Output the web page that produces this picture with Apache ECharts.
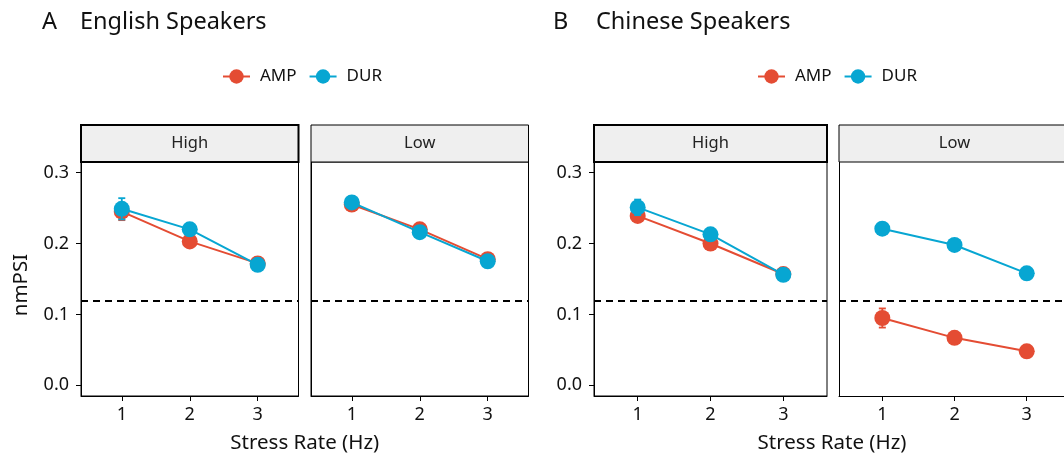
<!DOCTYPE html>
<html>
<head>
<meta charset="utf-8">
<script src="https://cdn.jsdelivr.net/npm/echarts@6/dist/echarts.min.js"></script>
<style>
  html, body { margin: 0; padding: 0; background: #fff; }
  #chart { width: 1064px; height: 460px; }
</style>
</head>
<body>
<div id="chart"></div>
<script>
// Stress rate levels (Hz) on the x axis
const stressRates = [1, 2, 3];
const yTicks = [0, 0.1, 0.2, 0.3];
const chanceLevel = 0.12;
const seriesNames = ['AMP', 'DUR'];
const panelTitles = ['English Speakers', 'Chinese Speakers'];
const panelLetters = ['A', 'B'];
const facetLabels = ['High', 'Low', 'High', 'Low'];

// Mean nmPSI per facet
const engHighAmp = [0.245, 0.203, 0.172];
const engHighDur = [0.249, 0.220, 0.170];
const engLowAmp  = [0.255, 0.220, 0.178];
const engLowDur  = [0.258, 0.216, 0.175];
const chnHighAmp = [0.239, 0.200, 0.157];
const chnHighDur = [0.251, 0.213, 0.156];
const chnLowAmp  = [0.095, 0.067, 0.048];
const chnLowDur  = [0.221, 0.198, 0.158];

// Standard errors
const engHighAmpSe = [0.012, 0.005, 0.004];
const engHighDurSe = [0.015, 0.007, 0.004];
const engLowAmpSe  = [0.006, 0.004, 0.004];
const engLowDurSe  = [0.005, 0.004, 0.004];
const chnHighAmpSe = [0.006, 0.005, 0.004];
const chnHighDurSe = [0.011, 0.006, 0.004];
const chnLowAmpSe  = [0.0135, 0.008, 0.005];
const chnLowDurSe  = [0.004, 0.004, 0.004];

const COLORS = { AMP: '#E44C33', DUR: '#07A6D2' };
const FONT = '"Noto Sans", "Open Sans", sans-serif';

// Facet panel geometry (px); the last facet runs past the right edge of the canvas,
// so its x range is trimmed to keep the same px-per-unit scale.
const panels = [
  { left: 81,  width: 217.5, xMax: 3.6,   border: true,  amp: engHighAmp, dur: engHighDur, ampSe: engHighAmpSe, durSe: engHighDurSe, yLabels: true },
  { left: 311, width: 217.5, xMax: 3.6,   border: true,  amp: engLowAmp,  dur: engLowDur,  ampSe: engLowAmpSe,  durSe: engLowDurSe,  yLabels: false },
  { left: 594, width: 233,   xMax: 3.6,   border: true,  amp: chnHighAmp, dur: chnHighDur, ampSe: chnHighAmpSe, durSe: chnHighDurSe, yLabels: true },
  { left: 839, width: 225,   xMax: 3.516, border: false, amp: chnLowAmp,  dur: chnLowDur,  ampSe: chnLowAmpSe,  durSe: chnLowDurSe,  yLabels: false }
];
const PLOT_TOP = 162, PLOT_H = 234, STRIP_TOP = 125;

const grids = [], xAxes = [], yAxes = [], series = [], graphics = [];

panels.forEach((p, i) => {
  grids.push({
    left: p.left, top: PLOT_TOP, width: p.width, height: PLOT_H,
    show: p.border, borderColor: '#000', borderWidth: 1, backgroundColor: 'transparent'
  });
  xAxes.push({
    gridIndex: i, type: 'value', min: 0.4, max: p.xMax,
    axisLine: { show: true, onZero: false, lineStyle: { color: '#000', width: 1 } },
    axisTick: { show: true, customValues: stressRates, length: 5, lineStyle: { color: '#000', width: 1 } },
    axisLabel: { customValues: stressRates, margin: 10, fontSize: 18, color: '#111', fontFamily: FONT },
    splitLine: { show: false }
  });
  yAxes.push({
    gridIndex: i, type: 'value', min: -0.015, max: 0.315,
    axisLine: { show: true, onZero: false, lineStyle: { color: '#000', width: 1 } },
    axisTick: { show: p.yLabels, customValues: yTicks, length: 5, lineStyle: { color: '#000', width: 1 } },
    axisLabel: { show: p.yLabels, customValues: yTicks, margin: 12, fontSize: 18, color: '#111', fontFamily: FONT,
                 formatter: v => v.toFixed(1) },
    splitLine: { show: false }
  });

  const groups = [
    { name: 'AMP', mean: p.amp, se: p.ampSe },
    { name: 'DUR', mean: p.dur, se: p.durSe }
  ];
  groups.forEach((g, k) => {
    // error bars (mean ± SE)
    series.push({
      type: 'custom', name: g.name + ' SE', xAxisIndex: i, yAxisIndex: i, z: 2 + k * 2,
      silent: true,
      itemStyle: { color: COLORS[g.name] },
      data: stressRates.map((x, j) => [x, g.mean[j] - g.se[j], g.mean[j] + g.se[j]]),
      renderItem: (params, api) => {
        const lo = api.coord([api.value(0), api.value(1)]);
        const hi = api.coord([api.value(0), api.value(2)]);
        const cap = 3.5;
        const style = { stroke: COLORS[g.name], lineWidth: 1.8 };
        return {
          type: 'group',
          children: [
            { type: 'line', shape: { x1: lo[0], y1: lo[1], x2: hi[0], y2: hi[1] }, style },
            { type: 'line', shape: { x1: lo[0] - cap, y1: lo[1], x2: lo[0] + cap, y2: lo[1] }, style },
            { type: 'line', shape: { x1: hi[0] - cap, y1: hi[1], x2: hi[0] + cap, y2: hi[1] }, style }
          ]
        };
      }
    });
    const s = {
      type: 'line', name: g.name, xAxisIndex: i, yAxisIndex: i, z: 3 + k * 2,
      data: stressRates.map((x, j) => [x, g.mean[j]]),
      symbol: 'circle', symbolSize: 16, showSymbol: true,
      lineStyle: { color: COLORS[g.name], width: 2 },
      itemStyle: { color: COLORS[g.name] },
      emphasis: { disabled: true }
    };
    if (k === 0) {
      s.markLine = {
        silent: true, symbol: 'none', animation: false,
        label: { show: false },
        lineStyle: { color: '#000', type: [7, 5], width: 2 },
        data: [{ yAxis: chanceLevel }]
      };
    }
    series.push(s);
  });

  // facet strip
  const high = facetLabels[i] === 'High';
  graphics.push({
    type: 'rect', z: 10,
    shape: { x: p.left, y: STRIP_TOP, width: p.border ? p.width : p.width + 10, height: PLOT_TOP - STRIP_TOP },
    style: { fill: '#EFEFEF', stroke: '#000', lineWidth: high ? 2 : 1 }
  });
  graphics.push({
    type: 'text', z: 11, x: p.left + (p.border ? p.width : p.width + 6) / 2, y: (STRIP_TOP + PLOT_TOP) / 2,
    style: { text: facetLabels[i], fill: '#222', font: '16.5px ' + FONT, textAlign: 'center', textVerticalAlign: 'middle' }
  });
});

// panel titles
const titleX = [[42, 80], [553, 596]];
panelTitles.forEach((t, i) => {
  graphics.push({ type: 'text', x: titleX[i][0], y: 22,
    style: { text: panelLetters[i], fill: '#111', font: '23.5px ' + FONT, textVerticalAlign: 'middle' } });
  graphics.push({ type: 'text', x: titleX[i][1], y: 22,
    style: { text: t, fill: '#111', font: '23.5px ' + FONT, textVerticalAlign: 'middle' } });
});

// x axis titles, centred under each pair of facets
[[81, 528.5], [594, 1070]].forEach(([a, b]) => {
  graphics.push({ type: 'text', x: (a + b) / 2, y: 443,
    style: { text: 'Stress Rate (Hz)', fill: '#111', font: '20.5px ' + FONT, textAlign: 'center', textVerticalAlign: 'middle' } });
});
// y axis title
graphics.push({ type: 'text', x: 21, y: 285, rotation: Math.PI / 2,
  style: { text: 'nmPSI', fill: '#111', font: '20.5px ' + FONT, textAlign: 'center', textVerticalAlign: 'middle' } });

const legendBase = {
  data: seriesNames, orient: 'horizontal', top: 63,
  itemWidth: 27, itemHeight: 18, itemGap: 12,
  selectedMode: false,
  textStyle: { fontSize: 17, color: '#111', fontFamily: FONT, padding: [0, 0, 0, 5] }
};

const chart = echarts.init(document.getElementById('chart'), null, { renderer: 'canvas' });
chart.setOption({
  animation: false,
  backgroundColor: '#fff',
  legend: [Object.assign({ left: 217 }, legendBase), Object.assign({ left: 752 }, legendBase)],
  grid: grids,
  xAxis: xAxes,
  yAxis: yAxes,
  series: series,
  graphic: graphics
});
</script>
</body>
</html>
